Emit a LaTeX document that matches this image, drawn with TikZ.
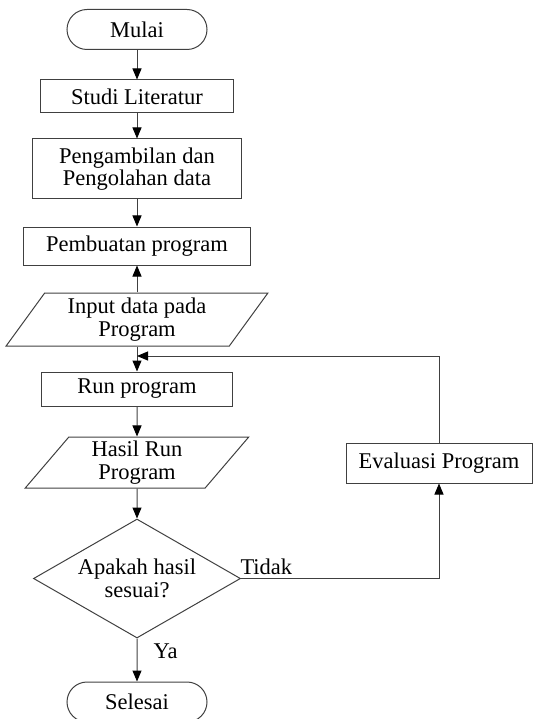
\documentclass[tikz,border=0pt]{standalone}
\usepackage{fontspec}
\setmainfont{Liberation Serif}
\usetikzlibrary{shapes.geometric,shapes.misc,arrows.meta}
\begin{document}
\begin{tikzpicture}[x=1pt,y=-1pt,
        every node/.style={font=\fontsize{22.5}{22.5}\selectfont, align=center, inner sep=0pt},
        garis/.style={draw=black!75, line width=1pt},
        panah/.style={garis, -{Triangle[length=11pt,width=9pt,color=black]}},
        terminal/.style={garis, rounded rectangle, minimum width=140, minimum height=40},
        proses/.style={garis, rectangle},
        data/.style={garis, trapezium, trapezium left angle=56, trapezium right angle=124,
            trapezium stretches=true},
        keputusan/.style={garis, diamond, aspect=1.74, minimum width=207, minimum height=119}]
                \useasboundingbox (0,0) rectangle (532,719);
                \node[terminal] (mulai) at (137,29.5) {Mulai};
                \node[proses, minimum width=193, minimum height=33] (studi) at (137,96.5) {Studi Literatur};
                \node[proses, minimum width=209, minimum height=60] (ambil) at (137,169) {Pengambilan dan\\Pengolahan data};
                \node[proses, minimum width=227, minimum height=38] (buat) at (137,246) {Pembuatan program};
                \node[data, minimum width=262, minimum height=53] (input) at (137,319.5) {Input data pada\\Program};
                \node[proses, minimum width=191, minimum height=34] (run) at (137,389) {Run program};
                \node[data, minimum width=224, minimum height=51] (hasil) at (137,462.5) {Hasil Run\\Program};
                \node[keputusan] (cek) at (137,578.5) {Apakah hasil\\sesuai?};
                \node[proses, minimum width=186, minimum height=40] (evaluasi) at (439,463) {Evaluasi Program};
                \node[terminal] (selesai) at (137,702) {Selesai};
                \coordinate (gabung) at (137,356);
                \draw[panah] (mulai) -- (studi);
                \draw[panah] (studi) -- (ambil);
                \draw[panah] (ambil) -- (buat);
                \draw[panah] (input) -- (buat);
                \draw[panah] (input) -- (run);
                \draw[panah] (evaluasi.north) |- (gabung);
                \draw[panah] (run) -- (hasil);
                \draw[panah] (hasil) -- (cek);
                \draw[panah] (cek.east) node[anchor=south west, xshift=-1pt, yshift=3pt] {Tidak} -| (evaluasi.south);
                \draw[panah] (cek) -- node[pos=0.3, anchor=west, xshift=16pt] {Ya} (selesai);
            \end{tikzpicture}
\end{document}
